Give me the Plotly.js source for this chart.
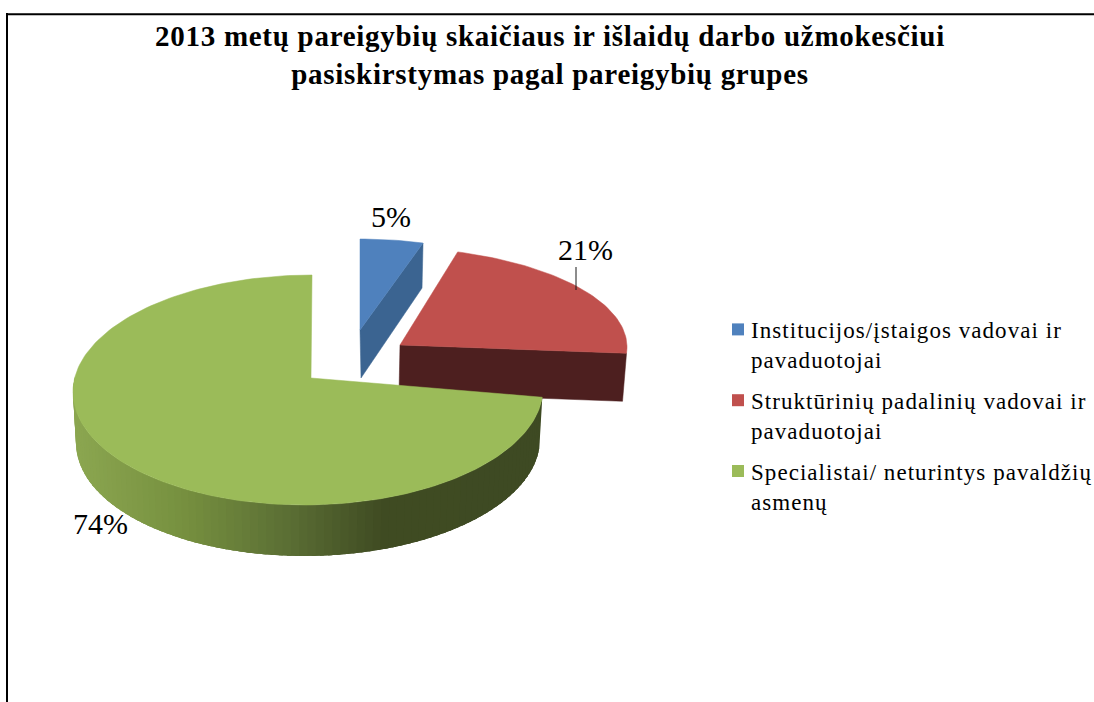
<!DOCTYPE html>
<html>
<head>
<meta charset="utf-8">
<script src="https://cdn.plot.ly/plotly-3.0.1.min.js"></script>
<style>
html,body{margin:0;padding:0;background:#fff}
#chart{width:1094px;height:702px}
.legendtext{letter-spacing:1.05px}
.gtitle{letter-spacing:0.72px}
.legend .legendsymbols{transform:translate(7px,-15px)}
</style>
</head>
<body>
<div id="chart"></div>
<script>
const titleText = "2013 metų pareigybių skaičiaus ir išlaidų darbo užmokesčiui<br>pasiskirstymas pagal pareigybių grupes";
const categories = ["Institucijos/įstaigos vadovai ir<br>pavaduotojai","Struktūrinių padalinių vadovai ir<br>pavaduotojai","Specialistai/ neturintys pavaldžių<br>asmenų"];
const shares = [5, 21, 74];
const colors = ["#4f81bd", "#c0504d", "#9bbb59"];

const SERIF = '"Liberation Serif","Times New Roman",serif';
// projected geometry of each exploded wedge, in page pixels
const tops = [
  {cx:360, cy:321, rx:204, ry:82,  ax:360, ay:330, sx:0},
  {cx:382, cy:347, rx:245, ry:100, ax:400, ay:345, sx:0},
  {cx:308, cy:390, rx:235, ry:115, ax:311, ay:378, sx:4}
];
const greenBase = {cx:308, cy:441, rx:232, ry:115, sx:4};
const sideStops = [[76,[139,166,80]],[183,[118,144,63]],[283,[92,112,53]],[383,[63,75,34]],[545,[62,74,35]]];

const total = shares.reduce((a,b)=>a+b,0);
const edges = [0];
shares.forEach(v=>edges.push(edges[edges.length-1]+v/total*2*Math.PI));
const pt = (e,t)=>[e.cx+e.rx*Math.sin(t)+e.sx*Math.cos(t), e.cy-e.ry*Math.cos(t)];

function wedge(e,a,b){
  const xs=[e.ax], ys=[e.ay], n=Math.max(8,Math.ceil((b-a)*40));
  for(let i=0;i<=n;i++){const p=pt(e,a+(b-a)*i/n); xs.push(p[0]); ys.push(p[1]);}
  xs.push(e.ax); ys.push(e.ay);
  return {xs,ys};
}
function poly(xs,ys,color,name,lineWidth){
  return {type:"scatter",mode:"lines",x:xs,y:ys,fill:"toself",fillcolor:color,
    line:{color:color,width:lineWidth===undefined?0.5:lineWidth},showlegend:false,hoverinfo:"skip",name:name||""};
}
function mixSide(x){
  for(let i=1;i<sideStops.length;i++){
    if(x<=sideStops[i][0]){
      const [x0,c0]=sideStops[i-1],[x1,c1]=sideStops[i],f=Math.max(0,(x-x0)/(x1-x0));
      return "rgb("+c0.map((c,k)=>Math.round(c+(c1[k]-c)*f)).join(",")+")";
    }
  }
  return "rgb(62,74,35)";
}

const traces=[];
// blue wedge: cut face under its top
const bTip=pt(tops[0],edges[1]);
traces.push(poly([bTip[0],bTip[0]-1,tops[0].ax+1,tops[0].ax,bTip[0]],[bTip[1],bTip[1]+45,tops[0].ay+48,tops[0].ay,bTip[1]],"#3b6491"));
let w=wedge(tops[0],edges[0],edges[1]); traces.push(poly(w.xs,w.ys,colors[0],categories[0]));
// red wedge: cut face under its top
const rTip=pt(tops[1],edges[2]);
traces.push(poly([tops[1].ax,rTip[0],rTip[0]-4,tops[1].ax-1,tops[1].ax],[tops[1].ay,rTip[1],rTip[1]+48,tops[1].ay+48,tops[1].ay],"#4d1f1f"));
w=wedge(tops[1],edges[1],edges[2]); traces.push(poly(w.xs,w.ys,colors[1],categories[1]));
// green wedge: shaded rim, strips overlap so no seams appear
const rimStart=edges[2], rimEnd=1.5*Math.PI+0.12, strips=90, step=(rimEnd-rimStart)/strips;
for(let i=0;i<strips;i++){
  const a=rimStart+step*i, b=Math.min(rimEnd,a+step*2.5);
  const xs=[],ys=[],low=[];
  for(let k=0;k<=4;k++){const t=a+(b-a)*k/4,p=pt(tops[2],t);xs.push(p[0]);ys.push(p[1]);low.unshift(pt(greenBase,t));}
  low.forEach(q=>{xs.push(q[0]);ys.push(q[1]);});
  xs.push(xs[0]);ys.push(ys[0]);
  traces.push(poly(xs,ys,mixSide(pt(tops[2],a+step/2)[0]),"",0));
}
w=wedge(tops[2],edges[2],edges[3]); traces.push(poly(w.xs,w.ys,colors[2],categories[2]));
// leader line of the 21% label
traces.push({type:"scatter",mode:"lines",x:[576,576],y:[267,290],line:{color:"#1a1a1a",width:1},showlegend:false,hoverinfo:"skip"});
// legend entries
categories.forEach((c,i)=>traces.push({type:"scatter",mode:"markers",x:[null],y:[null],name:c,legendgroup:"g"+i,
  marker:{symbol:"square",size:12,color:colors[i]},hoverinfo:"skip"}));

const labelPos=[[391,216],[585,249],[100,523]];
const layout={
  width:1094,height:702,margin:{l:0,r:0,t:0,b:0,autoexpand:false},
  paper_bgcolor:"#fff",plot_bgcolor:"#fff",
  font:{family:SERIF,color:"#000"},
  title:{text:titleText,font:{family:SERIF,size:29,color:"#000",weight:700},x:550/1094,xanchor:"center",y:1-46/702,yanchor:"middle"},
  xaxis:{range:[0,1094],visible:false,fixedrange:true},
  yaxis:{range:[702,0],visible:false,fixedrange:true},
  showlegend:true,
  legend:{x:711/1094,y:1-308/702,xanchor:"left",yanchor:"top",bgcolor:"rgba(0,0,0,0)",borderwidth:0,
    font:{family:SERIF,size:23,color:"#000"},tracegroupgap:8,itemclick:false,itemdoubleclick:false},
  shapes:[
    {type:"line",xref:"paper",yref:"paper",x0:7/1094,x1:7/1094,y0:0,y1:1-13/702,line:{color:"#000",width:2}},
    {type:"line",xref:"paper",yref:"paper",x0:6/1094,x1:1,y0:1-14.3/702,y1:1-14.3/702,line:{color:"#000",width:2}}
  ],
  annotations:shares.map((v,i)=>({x:labelPos[i][0],y:labelPos[i][1],xref:"x",yref:"y",text:v+"%",showarrow:false,
    xanchor:"center",yanchor:"middle",font:{family:SERIF,size:30,color:"#000"}}))
};
Plotly.newPlot("chart",traces,layout,{displayModeBar:false,staticPlot:true});
</script>
</body>
</html>
